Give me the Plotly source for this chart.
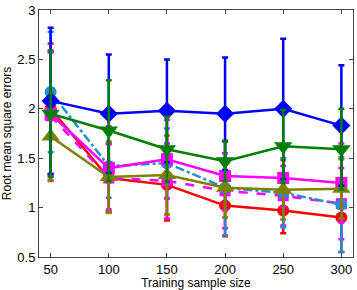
import plotly.graph_objects as go

sample_sizes = [50, 100, 150, 200, 250, 300]

red_mean = [2.00, 1.30, 1.23, 1.02, 0.97, 0.90]
red_err = [0.66, 0.35, 0.36, 0.31, 0.23, 0.35]

magenta_dash_mean = [1.93, 1.30, 1.27, 1.17, 1.12, 1.04]
magenta_dash_err = [0.65, 0.34, 0.38, 0.38, 0.30, 0.36]

lightblue_mean = [2.17, 1.42, 1.45, 1.20, 1.15, 1.03]
lightblue_err = [0.61, 0.32, 0.35, 0.48, 0.35, 0.48]

magenta_mean = [1.95, 1.40, 1.49, 1.32, 1.30, 1.25]
magenta_err = [0.62, 0.42, 0.40, 0.35, 0.30, 0.40]

olive_mean = [1.72, 1.31, 1.33, 1.20, 1.18, 1.19]
olive_err = [0.45, 0.36, 0.40, 0.30, 0.30, 0.30]

green_mean = [1.95, 1.78, 1.59, 1.47, 1.62, 1.59]
green_err = [0.64, 0.51, 0.33, 0.20, 0.37, 0.41]

blue_mean = [2.08, 1.95, 1.98, 1.95, 2.00, 1.83]
blue_err = [0.74, 0.60, 0.52, 0.57, 0.71, 0.61]

series = [
    (red_mean, red_err, "#FF0000", "solid", "circle", 12),
    (magenta_dash_mean, magenta_dash_err, "#FF00FF", "dash", "square", 11),
    (lightblue_mean, lightblue_err, "#1E8FD2", "dashdot", "circle", 12),
    (magenta_mean, magenta_err, "#FF00FF", "solid", "square", 12),
    (olive_mean, olive_err, "#808000", "solid", "triangle-up", 16),
    (blue_mean, blue_err, "#0000FF", "solid", "diamond", 14),
    (green_mean, green_err, "#008000", "solid", "triangle-down", 16),
]

fig = go.Figure()
for mean, err, color, dash, sym, msize in series:
    fig.add_trace(go.Scatter(
        x=sample_sizes, y=mean, mode="lines+markers",
        line=dict(color=color, width=2.5, dash=dash),
        marker=dict(color=color, symbol=sym, size=msize, line=dict(width=0)),
        error_y=dict(type="data", array=err, visible=True, color=color,
                     thickness=2.5, width=3),
        showlegend=False,
    ))

font_family = "Liberation Sans, Arial, sans-serif"
axis_common = dict(
    showgrid=False, zeroline=False, showline=True, mirror="ticks",
    linecolor="#444444", linewidth=1, ticks="inside", ticklen=4,
    tickcolor="#444444", tickfont=dict(family=font_family, size=13, color="#000"),
)
fig.update_xaxes(range=[40, 310], tickvals=sample_sizes,
                 title=dict(text="Training sample size", standoff=2,
                            font=dict(family=font_family, size=12, color="#000")),
                 **axis_common)
fig.update_yaxes(range=[0.5, 3], tickvals=[0.5, 1, 1.5, 2, 2.5, 3],
                 ticktext=["0.5", "1", "1.5", "2", "2.5", "3"],
                 title=dict(text="Root mean square errors", standoff=4,
                            font=dict(family=font_family, size=12, color="#000")),
                 **axis_common)
fig.update_layout(
    width=357, height=290,
    margin=dict(l=39, r=3, t=9, b=32),
    plot_bgcolor="white", paper_bgcolor="white",
)
fig.write_html("out.html", config={"displayModeBar": False},
               post_script="document.body.style.margin='0';document.body.style.overflow='hidden';")
